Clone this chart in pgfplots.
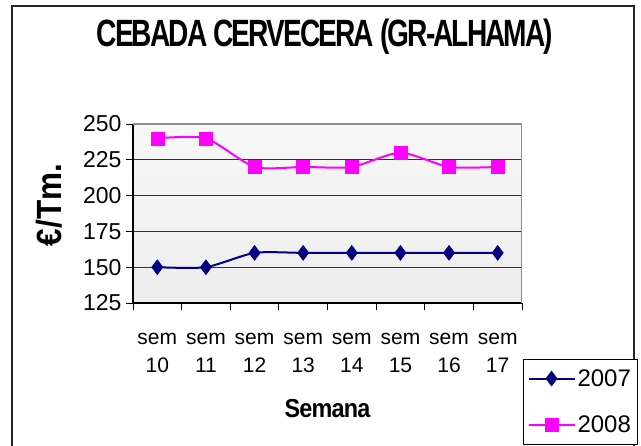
\documentclass[border=0pt]{standalone}
\usepackage{pgfplots}
\pgfplotsset{compat=1.18}
\usepackage{fontspec}
\setmainfont{Liberation Sans}
\newfontfamily\titlefont{Liberation Sans}[FakeStretch=0.74,LetterSpace=-5]
\newfontfamily\labfont{Liberation Sans}[FakeStretch=0.9,LetterSpace=-3]
\newfontfamily\ylabfont{Liberation Sans}[FakeStretch=0.9]
\definecolor{s07}{RGB}{0,0,128}
\definecolor{s08}{RGB}{255,0,255}
\begin{document}
\begin{tikzpicture}[x=1pt,y=1pt]
\useasboundingbox (0,0) rectangle (641,446);
\fill[white] (0,0) rectangle (641,446);
\draw[line width=1.5pt, black!85] (12,-10) rectangle (634,440);
\begin{axis}[
  at={(133pt,143pt)}, anchor=south west,
  scale only axis, width=389pt, height=179pt,
  xmin=0.5, xmax=8.5, ymin=125, ymax=250,
  ytick={125,150,175,200,225,250},
  xtick={1,...,8},
  xticklabels={sem\\10,sem\\11,sem\\12,sem\\13,sem\\14,sem\\15,sem\\16,sem\\17},
  minor xtick={0.5,1.5,...,8.5},
  major x tick style={draw=none},
  tick align=outside,
  major tick length=7pt, minor tick length=7pt,
  every tick/.style={black, line width=0.8pt},
  axis x line*=bottom, axis y line*=left,
  axis line style={black, line width=1.2pt, -},
  ymajorgrids, major grid style={black!80, line width=0.8pt},
  axis background/.style={shade, top color=white!97!black, bottom color=white!93!black},
  /pgf/number format/assume math mode=true,
  yticklabel style={font=\fontsize{23}{23}\selectfont, xshift=-1pt},
  xticklabel style={font=\fontsize{21}{28}\selectfont, align=center, yshift=-20pt},
  xlabel={\labfont\bfseries\fontsize{26}{26}\selectfont Semana},
  xlabel style={at={(axis description cs:0.5,-0.592)}, anchor=center},
  ylabel={\ylabfont\bfseries\fontsize{35}{35}\selectfont €/Tm.},
  ylabel style={at={(axis description cs:-0.216,0.547)}, anchor=center, rotate=0},
  title={\titlefont\bfseries\fontsize{38}{40}\selectfont CEBADA CERVECERA (GR-ALHAMA)},
  title style={at={(axis description cs:0.4936,1.455)}, anchor=center},
  legend style={at={(axis description cs:1.003,-0.313)}, anchor=north west,
    draw=black, line width=0.8pt, fill=white,
    font=\fontsize{24}{24}\selectfont, inner xsep=4pt, inner ysep=8pt,
    row sep=24pt, legend cell align=left},
  legend image code/.code={\draw[mark repeat=2,mark phase=2,#1] plot coordinates {(0pt,0pt) (23pt,0pt) (46pt,0pt)};},
]
\addplot[s07, line width=2pt, smooth, tension=0.4, mark=diamond*, mark size=7.5pt, mark options={solid, fill=s07, line width=0.5pt}]
  coordinates {(1,150) (2,150) (3,160) (4,160) (5,160) (6,160) (7,160) (8,160)};
\addlegendentry{2007}
\addplot[s08, line width=2pt, smooth, tension=0.4, mark=square*, mark size=6.5pt, mark options={solid, fill=s08, line width=0.5pt}]
  coordinates {(1,240) (2,240) (3,220) (4,220) (5,220) (6,230) (7,220) (8,220)};
\addlegendentry{2008}
\draw[black!45, line width=1.6pt] (rel axis cs:0,1) -- (rel axis cs:1,1) -- (rel axis cs:1,0);
\end{axis}
\end{tikzpicture}
\end{document}
